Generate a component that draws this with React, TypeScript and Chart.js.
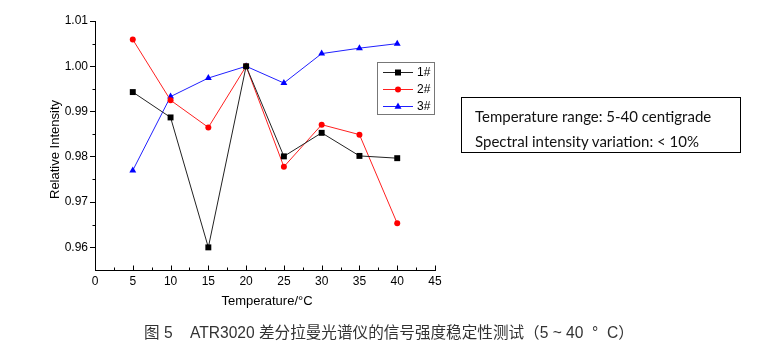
import React, { useEffect, useRef } from "react";
import { Chart, registerables } from "chart.js";

Chart.register(...registerables);

const temperatures = [5, 10, 15, 20, 25, 30, 35, 40];
const series1 = [0.9943, 0.9887, 0.96, 1.0, 0.9801, 0.9853, 0.9802, 0.9797];
const series2 = [1.0059, 0.9925, 0.9865, 1.0, 0.9778, 0.9871, 0.9849, 0.9653];
const series3 = [0.977, 0.9933, 0.9974, 1.0, 0.9963, 1.0028, 1.004, 1.005];
const seriesNames = ["1#", "2#", "3#"];
const xTicks = [0, 5, 10, 15, 20, 25, 30, 35, 40, 45];
const yTicks = [0.96, 0.97, 0.98, 0.99, 1.0, 1.01];
const xTitle = "Temperature/°C";
const yTitle = "Relative Intensity";
const noteLines = ["Temperature range: 5-40 centigrade", "Spectral intensity variation: < 10%"];
const caption = "图 5    ATR3020 差分拉曼光谱仪的信号强度稳定性测试（5 ~ 40  °  C）";

const FONT = "'Liberation Sans', Arial, sans-serif";

function drawMarker(ctx: CanvasRenderingContext2D, style: string, x: number, y: number, color: string) {
  ctx.save();
  ctx.fillStyle = color;
  ctx.beginPath();
  if (style === "rect") {
    ctx.rect(x - 3, y - 3, 6, 6);
  } else if (style === "circle") {
    ctx.arc(x, y, 3, 0, Math.PI * 2);
  } else {
    ctx.moveTo(x, y - 4);
    ctx.lineTo(x + 3.5, y + 2.2);
    ctx.lineTo(x - 3.5, y + 2.2);
    ctx.closePath();
  }
  ctx.fill();
  ctx.restore();
}

const extrasPlugin = {
  id: "extras",
  afterDraw(chart: any) {
    const ctx: CanvasRenderingContext2D = chart.ctx;
    const xs = chart.scales.x;
    const ys = chart.scales.y;
    const area = chart.chartArea;
    ctx.save();
    ctx.strokeStyle = "#000";
    ctx.lineWidth = 1;
    // x ticks (inward), major and minor
    const bottom = Math.round(area.bottom) + 0.5;
    ctx.beginPath();
    for (let i = 0; i < xTicks.length; i++) {
      const px = Math.round(xs.getPixelForValue(xTicks[i])) + 0.5;
      ctx.moveTo(px, bottom);
      ctx.lineTo(px, bottom - 5);
      if (i < xTicks.length - 1) {
        const mid = (xTicks[i] + xTicks[i + 1]) / 2;
        const mx = Math.round(xs.getPixelForValue(mid)) + 0.5;
        ctx.moveTo(mx, bottom);
        ctx.lineTo(mx, bottom - 3);
      }
    }
    // y minor ticks (outward)
    const left = Math.round(area.left) + 0.5;
    for (let i = 0; i < yTicks.length - 1; i++) {
      const mid = (yTicks[i] + yTicks[i + 1]) / 2;
      const my = Math.round(ys.getPixelForValue(mid)) + 0.5;
      ctx.moveTo(left, my);
      ctx.lineTo(left - 3, my);
    }
    ctx.stroke();

    // axis titles
    ctx.fillStyle = "#000";
    ctx.font = `13px ${FONT}`;
    ctx.textAlign = "center";
    ctx.textBaseline = "middle";
    ctx.fillText(xTitle, (area.left + area.right) / 2 + 2, area.bottom + 31);
    ctx.save();
    ctx.translate(55, (area.top + area.bottom) / 2 + 4);
    ctx.rotate(-Math.PI / 2);
    ctx.fillText(yTitle, 0, 0);
    ctx.restore();

    // legend
    ctx.strokeStyle = "#777";
    ctx.strokeRect(377.5, 62.5, 57, 52);
    const rows = [72, 89, 106];
    chart.data.datasets.forEach((ds: any, i: number) => {
      const y = rows[i];
      ctx.strokeStyle = ds.borderColor;
      ctx.beginPath();
      ctx.moveTo(383, y + 0.5);
      ctx.lineTo(413, y + 0.5);
      ctx.stroke();
      drawMarker(ctx, ds.pointStyle, 398, y + 0.5, ds.pointBackgroundColor);
      ctx.fillStyle = "#000";
      ctx.font = `12px ${FONT}`;
      ctx.textAlign = "left";
      ctx.fillText(ds.label, 417, y + 1);
    });
    ctx.restore();
  },
};

export default function App() {
  const canvasRef = useRef<HTMLCanvasElement | null>(null);

  useEffect(() => {
    if (!canvasRef.current) return;
    const mk = (vals: number[]) => temperatures.map((t, i) => ({ x: t, y: vals[i] }));
    const chart = new Chart(canvasRef.current, {
      type: "line",
      data: {
        datasets: [
          {
            label: seriesNames[0],
            data: mk(series1),
            borderColor: "#222222",
            borderWidth: 1,
            pointStyle: "rect",
            pointRadius: 4.2,
            pointBackgroundColor: "#000000",
            pointBorderWidth: 0,
            tension: 0,
          },
          {
            label: seriesNames[1],
            data: mk(series2),
            borderColor: "#ff2020",
            borderWidth: 1,
            pointStyle: "circle",
            pointRadius: 3,
            pointBackgroundColor: "#ff0000",
            pointBorderWidth: 0,
            tension: 0,
          },
          {
            label: seriesNames[2],
            data: mk(series3),
            borderColor: "#2020ff",
            borderWidth: 1,
            pointStyle: "triangle",
            pointRadius: 4,
            pointBackgroundColor: "#0000ff",
            pointBorderWidth: 0,
            tension: 0,
          },
        ],
      } as any,
      options: {
        responsive: false,
        animation: false,
        layout: { padding: { left: 0, top: 21, right: 325, bottom: 51 } },
        plugins: { legend: { display: false }, tooltip: { enabled: false } },
        scales: {
          x: {
            type: "linear",
            min: 0,
            max: 45,
            afterBuildTicks: (s: any) => {
              s.ticks = xTicks.map((v) => ({ value: v }));
            },
            afterFit: (s: any) => {
              s.height = 30;
            },
            ticks: {
              color: "#000",
              font: { family: FONT, size: 12 },
              padding: 4,
              maxRotation: 0,
              autoSkip: false,
            },
            grid: { drawOnChartArea: false, drawTicks: false },
            border: { display: true, color: "#000", width: 1 },
          },
          y: {
            type: "linear",
            min: 0.955,
            max: 1.01,
            afterBuildTicks: (s: any) => {
              s.ticks = yTicks.map((v) => ({ value: v }));
            },
            afterFit: (s: any) => {
              s.width = 95;
            },
            ticks: {
              color: "#000",
              font: { family: FONT, size: 12 },
              padding: 2,
              callback: (v: any) => Number(v).toFixed(2),
            },
            grid: { drawOnChartArea: false, drawTicks: true, tickLength: 5, tickColor: "#000" },
            border: { display: true, color: "#000", width: 1 },
          },
        },
      } as any,
      plugins: [extrasPlugin],
    });
    return () => chart.destroy();
  }, []);

  return (
    <div style={{ position: "absolute", left: 0, top: 0, width: 760, height: 351, background: "#fff", overflow: "hidden" }}>
      <canvas ref={canvasRef} width={760} height={351} style={{ display: "block", position: "absolute", left: 0, top: 0 }} />
      <div
        style={{
          position: "absolute",
          left: 461,
          top: 97,
          width: 280,
          height: 56,
          boxSizing: "border-box",
          border: "1px solid #000",
          padding: "6px 0 0 13px",
          fontFamily: "Lato, 'Open Sans', sans-serif",
          fontSize: 15,
          lineHeight: "25px",
          color: "#111",
          whiteSpace: "pre",
        }}
      >
        {noteLines.map((l, i) => (
          <div key={i}>{l}</div>
        ))}
      </div>
      <div
        style={{
          position: "absolute",
          left: 144,
          top: 322,
          fontFamily: "'Liberation Sans', 'Noto Sans CJK SC', sans-serif",
          fontSize: 15.6,
          lineHeight: "21px",
          color: "#333",
          whiteSpace: "pre",
        }}
      >
        {caption}
      </div>
    </div>
  );
}
